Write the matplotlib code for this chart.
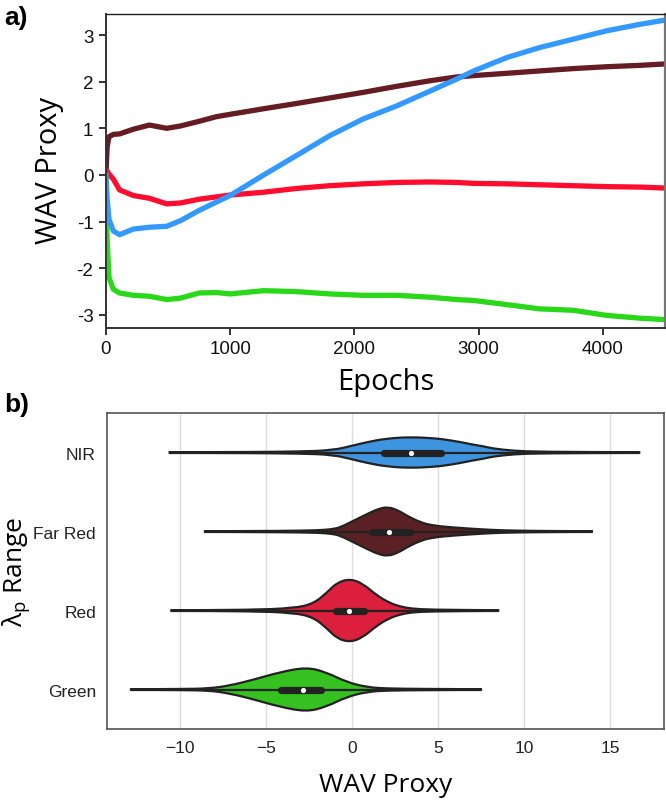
import numpy as np
import matplotlib
matplotlib.use('Agg')
from matplotlib import pyplot as plt
from matplotlib.path import Path
from matplotlib.patches import PathPatch

# ---- panel a: WAV proxy traces ----
epochs = [0, 10, 25, 60, 110, 220, 350, 490, 600, 750, 890, 1000, 1270, 1530,
          1800, 2070, 2340, 2610, 2820, 2960, 3230, 3490, 3760, 4030, 4300, 4500]
far_red_trace = [0.0, 0.6, 0.82, 0.87, 0.88, 0.98, 1.07, 1.0, 1.05, 1.15, 1.25, 1.3,
                 1.42, 1.53, 1.65, 1.77, 1.9, 2.02, 2.1, 2.13, 2.18, 2.23, 2.28, 2.32,
                 2.35, 2.38]
nir_trace = [0.0, -0.5, -0.95, -1.2, -1.28, -1.16, -1.12, -1.1, -0.98, -0.76, -0.58,
             -0.44, 0.0, 0.41, 0.84, 1.2, 1.48, 1.8, 2.05, 2.23, 2.52, 2.73, 2.91, 3.09,
             3.23, 3.32]
red_trace = [0.1, 0.08, 0.02, -0.09, -0.32, -0.44, -0.5, -0.62, -0.6, -0.52, -0.47,
             -0.43, -0.37, -0.29, -0.23, -0.19, -0.16, -0.15, -0.16, -0.18, -0.19,
             -0.21, -0.23, -0.25, -0.26, -0.28]
green_trace = [-0.1, -1.4, -2.2, -2.45, -2.53, -2.58, -2.6, -2.67, -2.64, -2.53, -2.52,
               -2.55, -2.48, -2.5, -2.55, -2.58, -2.58, -2.62, -2.67, -2.69, -2.78,
               -2.87, -2.9, -3.01, -3.07, -3.1]
a_xticks = [0, 1000, 2000, 3000, 4000]
a_yticks = [-3, -2, -1, 0, 1, 2, 3]

categories = ['NIR', 'Far Red', 'Red', 'Green']
prof_x = {
    'NIR': [-10.6, -6, -3, -1.1, 0.06, 0.9, 2.0, 3.4, 4.7, 5.3, 6.3, 7.0, 7.7, 8.2, 9.4, 11, 16.7],
    'Far Red': [-8.55, -4, -2, -1.2, -0.7, 0.08, 0.86, 1.5, 2.1, 2.7, 3.2, 4.0, 4.7, 5.9, 7.7,
                8.7, 10.5, 13.95],
    'Red': [-10.5, -6, -3.4, -2.25, -1.45, -0.87, -0.1, 0.65, 1.45, 2.2, 2.8, 3.4, 4.5, 8.5],
    'Green': [-12.85, -10, -8.3, -7.1, -5.75, -4.2, -2.65, -1.5, -0.3, 0.9, 2.0, 4, 7.5],
}
prof_hw = {
    'NIR': [0.3, 0.5, 1.0, 2.3, 7, 10.5, 14, 15.5, 14.3, 13.3, 10.5, 8, 6, 4, 1.7, 0.7, 0.3],
    'Far Red': [0.3, 0.6, 1.2, 2.2, 4, 10.7, 17.3, 22.5, 24.7, 21, 15.7, 9, 6, 4, 2, 1.2, 0.6, 0.3],
    'Red': [0.3, 0.6, 2.3, 6.7, 18, 28, 31.7, 26.7, 15, 7.5, 4, 2, 0.8, 0.3],
    'Green': [0.3, 0.5, 1.0, 4, 9.7, 17.3, 22.3, 17.3, 7.3, 2.3, 1, 0.6, 0.3],
}
q1 = [1.65, 0.95, -1.1, -4.3]
medians = [3.45, 2.15, -0.15, -2.85]
q3 = [5.35, 3.6, 0.9, -1.6]
whisk_lo = [-10.6, -8.55, -10.5, -12.85]
whisk_hi = [16.7, 13.95, 8.5, 7.5]
b_xticks = [-10, -5, 0, 5, 10, 15]

line_colors = {'far': '#651c22', 'nir': '#3399ff', 'red': '#ff0d2e', 'green': '#2ad81a'}
violin_colors = ['#3f94e0', '#5a2024', '#dc1f3d', '#35c11f']


def smooth_side(pts):
    # quadratic bezier through midpoints, read points act as control points
    verts = [pts[0], (pts[0] + pts[1]) / 2]
    codes = [Path.LINETO, Path.LINETO]
    for k in range(1, len(pts) - 1):
        verts += [pts[k], (pts[k] + pts[k + 1]) / 2]
        codes += [Path.CURVE3, Path.CURVE3]
    verts.append(pts[-1])
    codes.append(Path.LINETO)
    return verts, codes


fig = plt.figure(figsize=(6.66, 8.03), dpi=100)
tickfont = 'Liberation Sans'
labfont = 'Open Sans'

# panel a
ax = fig.add_axes([0.159, 0.5903, 0.8395, 0.391])
ax.plot(epochs, far_red_trace, color=line_colors['far'], lw=3.8)
ax.plot(epochs, red_trace, color=line_colors['red'], lw=3.8)
ax.plot(epochs, green_trace, color=line_colors['green'], lw=3.8)
ax.plot(epochs, nir_trace, color=line_colors['nir'], lw=3.8)
ax.set_xlim(0, 4500)
ax.set_ylim(-3.28, 3.45)
ax.set_xticks(a_xticks)
ax.set_xticklabels([str(t) for t in a_xticks])
ax.set_yticks(a_yticks)
ax.set_yticklabels([str(t) for t in a_yticks])
ax.tick_params(direction='out', length=5, width=1.2, labelsize=13.5, colors='#111', pad=4)
for lab in ax.get_xticklabels() + ax.get_yticklabels():
    lab.set_family(tickfont)
for s in ['left', 'bottom']:
    ax.spines[s].set_color('#333')
    ax.spines[s].set_linewidth(1.4)
ax.spines['top'].set_color('#222')
ax.spines['top'].set_linewidth(1.0)
ax.spines['right'].set_color('#777')
ax.spines['right'].set_linewidth(1.6)
ax.set_xlabel('Epochs', family=labfont, fontsize=21, labelpad=7)
fig.text(50 / 666, 1 - 170 / 803, 'WAV Proxy', family=labfont, fontsize=21, rotation=90,
         ha='center', va='center')
fig.text(0.006, 0.992, 'a)', family='Liberation Sans', fontsize=19, fontweight='bold', va='top')

# panel b
bx = fig.add_axes([0.1607, 0.0909, 0.8363, 0.3935])
px_per_cat = 79.0
for i, cat in enumerate(categories):
    xs = np.array(prof_x[cat])
    hw = np.array(prof_hw[cat]) / px_per_cat
    top = np.column_stack([xs, i - hw])
    bot = np.column_stack([xs, i + hw])[::-1]
    v1, c1 = smooth_side(top)
    v2, c2 = smooth_side(bot)
    c1[0] = Path.MOVETO
    verts = v1 + v2 + [top[0]]
    codes = c1 + c2 + [Path.CLOSEPOLY]
    bx.add_patch(PathPatch(Path(verts, codes), facecolor=violin_colors[i], edgecolor='#222',
                           lw=1.6, zorder=2))
    bx.plot([whisk_lo[i], whisk_hi[i]], [i, i], color='#222', lw=1.6, zorder=3,
            solid_capstyle='butt')
    bx.plot([q1[i] + 0.2, q3[i] - 0.2], [i, i], color='#222', lw=5.2, zorder=4,
            solid_capstyle='round')
    bx.scatter([medians[i]], [i], s=14, color='white', zorder=5, linewidths=0)
bx.set_ylim(3.5, -0.5)
bx.set_xlim(-14.24, 18.14)
bx.set_yticks(range(len(categories)))
bx.set_yticklabels(categories)
bx.set_xticks(b_xticks)
bx.set_xticklabels([str(t).replace('-', '\u2212') for t in b_xticks])
bx.grid(axis='x', color='#dcdcdc', lw=1.0, zorder=0)
bx.set_axisbelow(True)
bx.tick_params(length=0, labelsize=12.5, colors='#222', pad=8)
for lab in bx.get_xticklabels() + bx.get_yticklabels():
    lab.set_family(tickfont)
for s in bx.spines.values():
    s.set_color('#555')
    s.set_linewidth(1.2)
bx.set_xlabel('WAV Proxy', family=labfont, fontsize=19, labelpad=12)
fig.text(17 / 666, 1 - 572 / 803, '\u03bb$_\\mathregular{p}$ Range', family=labfont,
         fontsize=19, rotation=90, ha='center', va='center')
fig.text(0.006, 0.51, 'b)', family='Liberation Sans', fontsize=19, fontweight='bold', va='top')

fig.savefig('out.png', dpi=100)
